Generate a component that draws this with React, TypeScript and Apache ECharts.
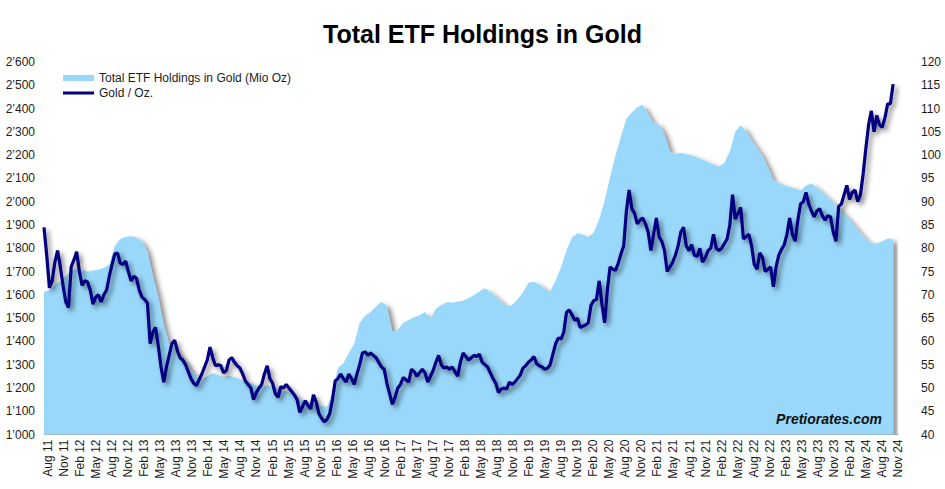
import React, { useEffect, useRef } from "react";
import * as echarts from "echarts";

const chartTitle = "Total ETF Holdings in Gold";
const etfName = "Total ETF Holdings in Gold (Mio Oz)";
const goldName = "Gold / Oz.";
const watermark = "Pretiorates.com";

// Quarterly x-axis tick labels
const tickLabels = [
  "Aug 11", "Nov 11",
  "Feb 12", "May 12", "Aug 12", "Nov 12",
  "Feb 13", "May 13", "Aug 13", "Nov 13",
  "Feb 14", "May 14", "Aug 14", "Nov 14",
  "Feb 15", "May 15", "Aug 15", "Nov 15",
  "Feb 16", "May 16", "Aug 16", "Nov 16",
  "Feb 17", "May 17", "Aug 17", "Nov 17",
  "Feb 18", "May 18", "Aug 18", "Nov 18",
  "Feb 19", "May 19", "Aug 19", "Nov 19",
  "Feb 20", "May 20", "Aug 20", "Nov 20",
  "Feb 21", "May 21", "Aug 21", "Nov 21",
  "Feb 22", "May 22", "Aug 22", "Nov 22",
  "Feb 23", "May 23", "Aug 23", "Nov 23",
  "Feb 24", "May 24", "Aug 24", "Nov 24",
];

// Gold price USD/oz, semi-monthly samples (Sep 2011 .. Aug 2024), left axis
const goldPrice = [
  1890, 1770, 1630, 1660, 1740, 1790, 1720, 1640, 1570, 1545,
  1720, 1750, 1785, 1700, 1640, 1660, 1655, 1620, 1560, 1590,
  1600, 1570, 1600, 1620, 1680, 1730, 1775, 1780, 1736, 1730,
  1745, 1700, 1660, 1680, 1670, 1620, 1590, 1580, 1565, 1390,
  1440, 1460, 1380, 1290, 1225, 1290, 1340, 1390, 1405, 1360,
  1330, 1320, 1300, 1270, 1240, 1220, 1210, 1235, 1260, 1290,
  1320, 1375, 1330, 1295, 1300, 1295, 1265, 1275, 1320, 1330,
  1310, 1295, 1285, 1260, 1230, 1215, 1200, 1150, 1180, 1200,
  1215, 1260, 1295, 1240, 1220, 1175, 1160, 1205, 1200, 1215,
  1200, 1185, 1170, 1150, 1095, 1120, 1145, 1125, 1110, 1170,
  1140, 1090, 1070, 1055, 1065, 1090, 1150, 1230, 1240, 1260,
  1240, 1225, 1260, 1240, 1215, 1260, 1300, 1350, 1355, 1340,
  1350, 1340, 1330, 1310, 1290, 1280, 1220, 1175, 1130, 1160,
  1200, 1215, 1245, 1235, 1225, 1280, 1270, 1250, 1265, 1280,
  1265, 1225, 1250, 1275, 1310, 1340, 1300, 1285, 1290, 1280,
  1290, 1270, 1250, 1310, 1350, 1335, 1320, 1330, 1340, 1335,
  1345, 1310, 1300, 1290, 1265, 1240, 1220, 1180, 1195, 1200,
  1195, 1225, 1215, 1225, 1240, 1255, 1285, 1295, 1310, 1320,
  1335, 1305, 1295, 1290, 1280, 1285, 1300, 1345, 1390, 1415,
  1410, 1440, 1525, 1535, 1515, 1490, 1500, 1460, 1465, 1470,
  1480, 1555, 1575, 1580, 1660, 1560, 1480, 1620, 1720, 1710,
  1705, 1735, 1775, 1810, 1960, 2050, 1970, 1950, 1905, 1920,
  1930, 1905, 1870, 1790, 1860, 1930, 1850, 1830, 1790, 1700,
  1720, 1740, 1770, 1810, 1870, 1890, 1810, 1790, 1815, 1770,
  1765, 1800, 1740, 1760, 1790, 1800, 1860, 1800, 1790, 1800,
  1820, 1840, 1900, 2030, 1925, 1950, 1975, 1840, 1850, 1860,
  1810, 1730, 1710, 1780, 1760, 1700, 1710, 1720, 1635, 1720,
  1770, 1795, 1815, 1860, 1930, 1860, 1830, 1920, 1990, 2000,
  2040, 1990, 1960, 1935, 1960, 1970, 1940, 1920, 1940, 1935,
  1870, 1830, 1980, 1990, 2030, 2070, 2010, 2040, 2050, 2000,
  2030, 2120, 2230, 2330, 2390, 2300, 2370, 2330, 2320, 2360,
  2420, 2420, 2505,
];

// Total ETF holdings (Mio oz), monthly samples (Sep 2011 .. Aug 2024), right axis
const etfHoldings = [
  70.6, 71, 72, 73, 74, 75.3, 75.5, 75.3, 75, 75.2,
  75.4, 75.8, 76.5, 80.5, 82, 82.4, 82.6, 82.3, 81.5, 79.3,
  74, 69.5, 63.5, 59.5, 58.3, 57, 55.5, 53.9, 52.5, 51.8,
  52.5, 53.2, 52.8, 52.3, 52.6, 52.3, 51.8, 51.2, 51, 50.5,
  50.2, 50.6, 50.2, 49.8, 49.4, 49, 48.3, 47.5, 47.2, 46.8,
  46.5, 46.1, 45.9, 49, 54.3, 55.3, 57.5, 59.5, 64, 65.5,
  66.3, 67.5, 68.5, 67.6, 62, 62.5, 64, 64.6, 65.2, 65.6,
  66.3, 64.8, 67, 67.8, 68.4, 68.3, 68.5, 68.7, 69.3, 69.9,
  70.7, 71.4, 70.6, 69.6, 68.6, 67.5, 67.8, 69, 70.5, 72.6,
  72.8, 72.2, 71.3, 70.7, 73.1, 76, 79.5, 82.3, 83.2, 82.9,
  82.4, 83.4, 86.2, 90.2, 95.2, 100, 104, 107.8, 109.2, 110.3,
  110.8, 108.9, 106.8, 106.6, 104.5, 100.8, 100.2, 100.5, 100.2, 99.9,
  99.5, 99, 98.5, 98, 97.5, 98.3, 100.8, 105, 106.4, 105.2,
  103.2, 101.5, 99.8, 97.4, 94.6, 94, 93.5, 93.2, 92.8, 92.4,
  93.5, 93.9, 93, 92, 90.9, 89.8, 88.6, 87.4, 86.2, 84.7,
  83.3, 82, 81.2, 81, 81.5, 82.1, 82,
];

const AREA = "#99d8fa";
const NAVY = "#000080";
const FONT = '"Liberation Sans", Arial, sans-serif';
const TEXT = "#1c1c1c";

export default function App() {
  const ref = useRef<HTMLDivElement>(null);

  useEffect(() => {
    if (!ref.current) return;
    const chart = echarts.init(ref.current, null, { renderer: "svg" });
    const goldData = goldPrice.map((v, i) => [i, v]);
    const etfData = etfHoldings.map((v, j) => [j * 2, v]);
    const fmtThousands = (v: number) => {
      const s = String(Math.round(v));
      return s.length > 3 ? s.slice(0, s.length - 3) + "\u2019" + s.slice(-3) : s;
    };

    chart.setOption({
      animation: false,
      backgroundColor: "#ffffff",
      title: {
        text: chartTitle,
        left: 318,
        top: 16,
        textStyle: { fontFamily: FONT, fontSize: 25, fontWeight: "bold", color: "#000" },
      },
      legend: {
        left: 58,
        top: 67,
        orient: "vertical",
        itemWidth: 31,
        itemHeight: 6,
        itemGap: 3,
        textStyle: { fontFamily: FONT, fontSize: 12, color: TEXT },
        data: [
          { name: etfName, icon: "rect" },
          { name: goldName, icon: "path://M0,0H31V3H0Z" },
        ],
      },
      grid: { left: 44, right: 47, top: 62, bottom: 54.5, containLabel: false },
      xAxis: [
        { type: "value", min: 0, max: 313.8, show: false },
        {
          type: "value",
          min: -0.25,
          max: 53,
          position: "bottom",
          axisLine: { show: true, lineStyle: { color: "#a9b9c9", width: 1 } },
          axisTick: { show: false },
          splitLine: { show: false },
          axisLabel: {
            customValues: tickLabels.map((_, k) => k),
            formatter: (v: number) => tickLabels[Math.round(v)] ?? "",
            rotate: 90,
            fontSize: 12,
            fontFamily: FONT,
            color: TEXT,
            margin: 5,
          },
        },
      ],
      yAxis: [
        {
          type: "value",
          min: 1000,
          max: 2600,
          interval: 100,
          position: "left",
          axisLine: { show: false },
          axisTick: { show: false },
          splitLine: { show: false },
          axisLabel: { formatter: fmtThousands, fontSize: 12, fontFamily: FONT, color: TEXT, margin: 9 },
        },
        {
          type: "value",
          min: 40,
          max: 120,
          interval: 5,
          position: "right",
          axisLine: { show: false },
          axisTick: { show: false },
          splitLine: { show: false },
          axisLabel: { fontSize: 12, fontFamily: FONT, color: TEXT, margin: 23 },
        },
      ],
      series: [
        {
          name: etfName,
          type: "line",
          xAxisIndex: 0,
          yAxisIndex: 1,
          data: etfData,
          symbol: "none",
          showSymbol: false,
          lineStyle: { width: 0, color: AREA },
          itemStyle: { color: AREA },
          areaStyle: {
            color: AREA,
            opacity: 1,
            shadowColor: "rgba(0,0,0,0.45)",
            shadowBlur: 5,
            shadowOffsetX: 4,
            shadowOffsetY: 3,
          },
          z: 1,
        },
        {
          name: goldName,
          type: "line",
          xAxisIndex: 0,
          yAxisIndex: 0,
          data: goldData,
          symbol: "none",
          showSymbol: false,
          itemStyle: { color: NAVY },
          lineStyle: {
            width: 3.2,
            color: NAVY,
            shadowColor: "rgba(0,0,0,0.5)",
            shadowBlur: 5,
            shadowOffsetX: 3,
            shadowOffsetY: 3,
          },
          z: 2,
        },
      ],
      graphic: [
        {
          type: "text",
          x: 829,
          y: 419,
          z: 10,
          style: {
            text: watermark,
            font: 'italic bold 14px "Liberation Sans", Arial, sans-serif',
            fill: "#111",
            textAlign: "center",
            textVerticalAlign: "middle",
            shadowColor: "rgba(0,0,0,0.45)",
            shadowBlur: 3,
            shadowOffsetX: 2,
            shadowOffsetY: 2,
          },
        },
      ],
    });
    return () => chart.dispose();
  }, []);

  return (
    <div
      ref={ref}
      style={{ position: "fixed", left: 0, top: 0, width: 945, height: 489, background: "#fff" }}
    />
  );
}
